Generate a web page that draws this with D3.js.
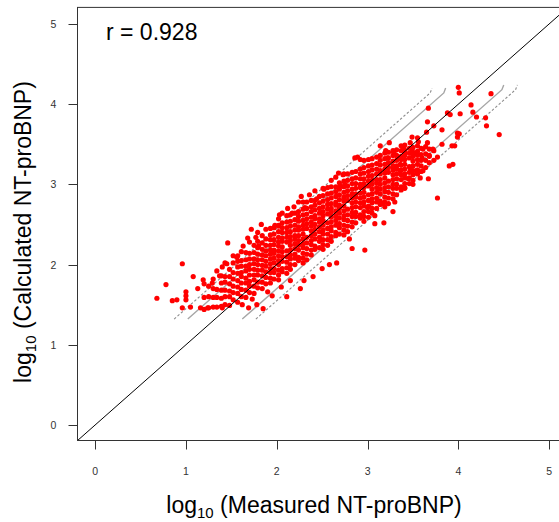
<!DOCTYPE html>
<html>
<head>
<meta charset="utf-8">
<script src="https://cdn.jsdelivr.net/npm/d3@7"></script>
<style>
  body { margin: 0; background: #fff; }
  text { font-family: "Liberation Sans", Arial, sans-serif; }
</style>
</head>
<body>
<svg id="chart" width="559" height="522"></svg>
<script>
// axis ticks (log10 units)
var xTicks = [0, 1, 2, 3, 4, 5];
var yTicks = [0, 1, 2, 3, 4, 5];
var rLabel = "r = 0.928";

// dense core of the cloud, read column by column: [measured, [calculated...]]
var coreColumns = [
  [1.20, [1.44, 1.59, 1.76]],
  [1.25, [1.46, 1.60, 1.73]],
  [1.30, [1.47, 1.59, 1.70, 1.82]],
  [1.34, [1.47, 1.59, 1.69, 1.92]],
  [1.39, [1.48, 1.58, 1.68, 1.77, 1.86]],
  [1.43, [1.50, 1.60, 1.68, 1.78, 1.85, 2.02]],
  [1.48, [1.49, 1.60, 1.67, 1.76, 1.85, 1.94]],
  [1.52, [1.56, 1.65, 1.73, 1.82, 1.90, 2.02, 2.11]],
  [1.57, [1.53, 1.64, 1.72, 1.80, 1.89, 1.97, 2.04]],
  [1.61, [1.60, 1.69, 1.77, 1.85, 1.90, 1.98, 2.05, 2.16]],
  [1.66, [1.59, 1.68, 1.77, 1.83, 1.92, 1.98, 2.06, 2.15]],
  [1.70, [1.65, 1.73, 1.79, 1.87, 1.94, 2.00, 2.07, 2.14, 2.28]],
  [1.75, [1.64, 1.73, 1.81, 1.87, 1.94, 2.01, 2.07, 2.15, 2.24]],
  [1.79, [1.71, 1.78, 1.87, 1.93, 2.00, 2.06, 2.13, 2.21, 2.29, 2.40]],
  [1.84, [1.70, 1.78, 1.86, 1.93, 1.99, 2.06, 2.12, 2.19, 2.27, 2.36]],
  [1.88, [1.76, 1.84, 1.91, 1.98, 2.04, 2.11, 2.17, 2.24, 2.32, 2.44]],
  [1.93, [1.77, 1.83, 1.90, 1.95, 2.01, 2.07, 2.13, 2.18, 2.24, 2.31, 2.37, 2.45]],
  [1.97, [1.82, 1.90, 1.95, 2.02, 2.08, 2.14, 2.18, 2.25, 2.31, 2.38, 2.46]],
  [2.02, [1.81, 1.87, 1.93, 2.00, 2.05, 2.11, 2.17, 2.23, 2.28, 2.34, 2.41, 2.48, 2.57]],
  [2.06, [1.91, 1.95, 2.04, 2.10, 2.16, 2.22, 2.29, 2.33, 2.40, 2.46, 2.52, 2.64]],
  [2.11, [1.89, 1.96, 2.03, 2.10, 2.17, 2.28, 2.34, 2.40, 2.46, 2.53, 2.61]],
  [2.15, [1.94, 2.00, 2.07, 2.12, 2.18, 2.24, 2.30, 2.35, 2.41, 2.48, 2.54, 2.62]],
  [2.20, [2.00, 2.08, 2.13, 2.20, 2.26, 2.32, 2.36, 2.43, 2.49, 2.56, 2.64]],
  [2.24, [2.05, 2.09, 2.18, 2.24, 2.30, 2.36, 2.43, 2.47, 2.54, 2.60, 2.66, 2.78]],
  [2.29, [2.02, 2.08, 2.14, 2.21, 2.26, 2.32, 2.38, 2.44, 2.49, 2.55, 2.62, 2.69, 2.78]],
  [2.33, [2.06, 2.13, 2.20, 2.27, 2.34, 2.45, 2.51, 2.57, 2.63, 2.70, 2.78]],
  [2.38, [2.12, 2.18, 2.25, 2.30, 2.36, 2.42, 2.48, 2.53, 2.59, 2.66, 2.72, 2.80]],
  [2.42, [2.19, 2.23, 2.32, 2.38, 2.44, 2.50, 2.57, 2.61, 2.68, 2.74, 2.80, 2.92]],
  [2.47, [2.21, 2.29, 2.34, 2.41, 2.47, 2.53, 2.57, 2.64, 2.70, 2.77, 2.85]],
  [2.51, [2.19, 2.25, 2.31, 2.38, 2.43, 2.49, 2.55, 2.61, 2.66, 2.72, 2.79, 2.86, 2.95]],
  [2.56, [2.24, 2.31, 2.38, 2.45, 2.52, 2.63, 2.69, 2.75, 2.81, 2.88, 2.96]],
  [2.60, [2.29, 2.35, 2.42, 2.47, 2.53, 2.59, 2.65, 2.70, 2.76, 2.83, 2.89, 2.97]],
  [2.65, [2.36, 2.40, 2.49, 2.55, 2.61, 2.67, 2.74, 2.78, 2.85, 2.91, 2.97, 3.09]],
  [2.69, [2.38, 2.46, 2.51, 2.58, 2.64, 2.70, 2.74, 2.81, 2.87, 2.94, 3.02]],
  [2.74, [2.37, 2.43, 2.49, 2.56, 2.61, 2.67, 2.73, 2.79, 2.84, 2.90, 2.97, 3.04, 3.13]],
  [2.78, [2.41, 2.48, 2.55, 2.62, 2.69, 2.80, 2.86, 2.92, 2.98, 3.05, 3.13]],
  [2.83, [2.47, 2.53, 2.60, 2.65, 2.71, 2.77, 2.83, 2.88, 2.94, 3.01, 3.07, 3.15]],
  [2.87, [2.52, 2.60, 2.65, 2.72, 2.78, 2.84, 2.88, 2.95, 3.01, 3.08, 3.16]],
  [2.92, [2.58, 2.62, 2.71, 2.77, 2.83, 2.89, 2.96, 3.00, 3.07, 3.13, 3.19, 3.31]],
  [2.96, [2.54, 2.60, 2.66, 2.73, 2.78, 2.84, 2.90, 2.96, 3.01, 3.07, 3.14, 3.21, 3.30]],
  [3.01, [2.59, 2.66, 2.73, 2.80, 2.87, 2.98, 3.04, 3.10, 3.16, 3.23, 3.31]],
  [3.05, [2.64, 2.70, 2.77, 2.82, 2.88, 2.94, 3.00, 3.05, 3.11, 3.18, 3.24, 3.32]],
  [3.10, [2.70, 2.78, 2.83, 2.90, 2.96, 3.02, 3.06, 3.13, 3.19, 3.26, 3.34]],
  [3.14, [2.75, 2.79, 2.88, 2.94, 3.00, 3.06, 3.13, 3.17, 3.24, 3.30, 3.36, 3.48]],
  [3.19, [2.72, 2.78, 2.84, 2.91, 2.96, 3.02, 3.08, 3.14, 3.19, 3.25, 3.32, 3.39]],
  [3.23, [2.76, 2.83, 2.90, 2.97, 3.04, 3.15, 3.21, 3.27, 3.33, 3.40]],
  [3.28, [2.82, 2.88, 2.95, 3.00, 3.06, 3.12, 3.18, 3.23, 3.29, 3.36, 3.42]],
  [3.32, [2.87, 2.95, 3.00, 3.07, 3.13, 3.19, 3.23, 3.30, 3.36, 3.43]],
  [3.37, [2.93, 2.97, 3.06, 3.12, 3.18, 3.24, 3.31, 3.35, 3.42, 3.48]],
  [3.41, [2.95, 3.01, 3.08, 3.13, 3.19, 3.25, 3.31, 3.36, 3.42, 3.49]],
  [3.46, [3.01, 3.08, 3.15, 3.22, 3.33, 3.39, 3.45]],
  [3.50, [3.05, 3.12, 3.17, 3.23, 3.29, 3.35, 3.40, 3.46]],
  [3.55, [3.13, 3.18, 3.25, 3.31, 3.37, 3.41, 3.48]],
  [3.59, [3.16, 3.23, 3.30, 3.37, 3.45]],
  [3.64, [3.21, 3.30, 3.38, 3.47]],
  [3.68, [3.27, 3.36, 3.44]],
  [3.73, [3.30, 3.42]]
];

// scattered points away from the core: [measured, calculated]
var sparsePoints = [
  [0.68, 1.58], [0.78, 1.75], [0.85, 1.55], [0.90, 1.56], [0.96, 2.01], [0.96, 1.46],
  [1.00, 1.66], [1.00, 1.61], [1.00, 1.56], [1.05, 1.47], [1.08, 1.85], [1.13, 1.70],
  [1.16, 1.46], [1.19, 1.81], [1.24, 1.46], [1.29, 1.77], [1.37, 1.86], [1.40, 1.46],
  [1.45, 2.01], [1.46, 2.27], [1.56, 2.09], [1.69, 1.46], [1.72, 2.44], [1.77, 2.34],
  [1.40, 1.97], [1.57, 2.11], [1.63, 2.23], [1.80, 2.23], [1.83, 2.50], [1.68, 2.33],
  [2.03, 2.62], [1.98, 2.49], [2.02, 2.49], [2.11, 1.60], [2.26, 1.70], [1.95, 1.61],
  [1.85, 1.45], [1.78, 1.50], [1.62, 1.50], [1.73, 1.57], [1.90, 1.66], [2.05, 1.72],
  [2.15, 1.80], [2.19, 2.72], [2.12, 2.70], [2.36, 2.87], [2.27, 2.85],
  [2.50, 1.95], [2.97, 2.18], [3.00, 2.71], [3.08, 2.61],
  [3.08, 2.51], [2.86, 3.33], [2.89, 3.34], [2.68, 3.14], [2.73, 3.12], [2.52, 2.94],
  [2.44, 2.82], [2.70, 2.98], [2.75, 3.00], [2.17, 2.64], [2.31, 2.71], [2.60, 3.05],
  [2.40, 1.85], [2.66, 2.02], [2.83, 2.20], [2.30, 1.80], [2.58, 2.00], [2.80, 2.32],
  [4.00, 4.21], [4.01, 4.14], [4.36, 4.13], [3.67, 3.95], [4.14, 3.99], [3.88, 3.89],
  [3.91, 3.87], [4.02, 3.88], [4.16, 3.90], [4.20, 3.84], [4.30, 3.83], [4.31, 3.73],
  [4.45, 3.62], [3.66, 3.78], [3.73, 3.73], [3.82, 3.68], [3.65, 3.65], [3.99, 3.64],
  [4.01, 3.63], [3.99, 3.59], [3.55, 3.58], [3.49, 3.59], [3.24, 3.52], [3.47, 3.52],
  [3.56, 3.53], [3.82, 3.50], [3.93, 3.48], [3.96, 3.48], [3.66, 3.52], [3.72, 3.44],
  [3.61, 3.44], [3.49, 3.42], [3.40, 3.45], [3.29, 3.40], [3.20, 3.42], [3.22, 3.33],
  [3.33, 3.32], [3.41, 3.39], [3.50, 3.35], [3.52, 3.38], [3.68, 3.35], [3.77, 3.34],
  [3.90, 3.23], [3.94, 3.25], [3.60, 3.33], [3.36, 3.25], [3.36, 3.17], [3.47, 3.20],
  [3.54, 3.17], [3.61, 3.17], [3.58, 3.08], [3.67, 3.07], [3.45, 3.07], [3.50, 3.00],
  [3.41, 2.96], [3.77, 2.83], [3.30, 2.78], [3.28, 2.66], [3.18, 2.52], [3.17, 2.76]
];

// agreement bands drawn as grey lines: offset from identity and measured range
var bandOffsets = [0.45, 0.30, -0.30, -0.45];
var bandStart = [0.87, 1.02, 1.62, 1.77];
var bandEnd = [3.69, 3.84, 4.48, 4.63];
var bandDashed = [true, false, false, true];

var svg = d3.select("#chart");

var x = d3.scaleLinear().domain([-0.2, 5.2]).range([77, 567.3]);
var y = d3.scaleLinear().domain([-0.2, 5.2]).range([441, 7.9]);

svg.append("clipPath").attr("id", "plotclip")
  .append("rect")
    .attr("x", x(-0.2)).attr("y", y(5.2))
    .attr("width", x(5.2) - x(-0.2)).attr("height", y(-0.2) - y(5.2));

var plot = svg.append("g").attr("clip-path", "url(#plotclip)");

// grey bands
var bandLine = d3.line().x(d => x(d[0])).y(d => y(d[1]));
bandOffsets.forEach(function(off, i) {
  var pts = [[bandStart[i], bandStart[i] + off], [bandEnd[i], bandEnd[i] + off],
             [bandEnd[i] + 0.02, bandEnd[i] + off + 0.06]];
  plot.append("path")
      .attr("d", bandLine(pts))
      .attr("fill", "none")
      .attr("stroke", bandDashed[i] ? "#8c8c8c" : "#a6a6a6")
      .attr("stroke-width", bandDashed[i] ? 1.1 : 1.4)
      .attr("stroke-dasharray", bandDashed[i] ? "2.5,2" : null);
});

// flatten the columns into points
var allPoints = [];
coreColumns.forEach(function(col) {
  col[1].forEach(function(v) { allPoints.push([col[0], v]); });
});
allPoints = allPoints.concat(sparsePoints);

plot.selectAll("circle.pt")
  .data(allPoints)
  .enter().append("circle")
    .attr("class", "pt")
    .attr("cx", d => x(d[0]))
    .attr("cy", d => y(d[1]))
    .attr("r", 2.6)
    .attr("fill", "#ff0000");

// identity line
plot.append("path")
    .attr("d", bandLine([[-0.2, -0.2], [5.2, 5.2]]))
    .attr("stroke", "#000")
    .attr("stroke-width", 1)
    .attr("fill", "none");

// box
svg.append("rect")
    .attr("x", x(-0.2) + 0.5).attr("y", y(5.2) - 0.5)
    .attr("width", x(5.2) - x(-0.2)).attr("height", y(-0.2) - y(5.2))
    .attr("fill", "none")
    .attr("stroke", "#333")
    .attr("stroke-width", 1);

// axes, R style: ticks outside the box
var xAxis = svg.append("g").attr("transform", "translate(0," + (y(-0.2) - 0.5) + ")");
xAxis.selectAll("line").data(xTicks).enter().append("line")
    .attr("x1", d => Math.round(x(d)) + 0.5).attr("x2", d => Math.round(x(d)) + 0.5)
    .attr("y1", 0).attr("y2", 9)
    .attr("stroke", "#333");
xAxis.selectAll("text").data(xTicks).enter().append("text")
    .attr("x", d => x(d))
    .attr("y", 34)
    .attr("text-anchor", "middle")
    .attr("font-size", "10.5px")
    .attr("fill", "#333")
    .text(d => d);

var yAxis = svg.append("g").attr("transform", "translate(" + (x(-0.2) + 0.5) + ",0)");
yAxis.selectAll("line").data(yTicks).enter().append("line")
    .attr("y1", d => Math.round(y(d)) + 0.5).attr("y2", d => Math.round(y(d)) + 0.5)
    .attr("x1", 0).attr("x2", -9)
    .attr("stroke", "#333");
yAxis.selectAll("text").data(yTicks).enter().append("text")
    .attr("x", -24)
    .attr("y", d => y(d) + 4)
    .attr("text-anchor", "middle")
    .attr("font-size", "10.5px")
    .attr("fill", "#333")
    .text(d => d);

// axis titles with subscript 10
function logTitle(sel, rest) {
  sel.append("tspan").text("log");
  sel.append("tspan").attr("font-size", "15px").attr("dy", 5).text("10");
  sel.append("tspan").attr("dy", -5).text(" " + rest);
}

svg.append("text")
    .attr("x", 314)
    .attr("y", 513)
    .attr("text-anchor", "middle")
    .attr("font-size", "23px")
    .attr("fill", "#000")
    .call(logTitle, "(Measured NT-proBNP)");

svg.append("text")
    .attr("transform", "translate(31,232) rotate(-90)")
    .attr("text-anchor", "middle")
    .attr("font-size", "23px")
    .attr("fill", "#000")
    .call(logTitle, "(Calculated NT-proBNP)");

svg.append("text")
    .attr("x", 106)
    .attr("y", 40)
    .attr("font-size", "23px")
    .attr("fill", "#000")
    .text(rLabel);
</script>
</body>
</html>
